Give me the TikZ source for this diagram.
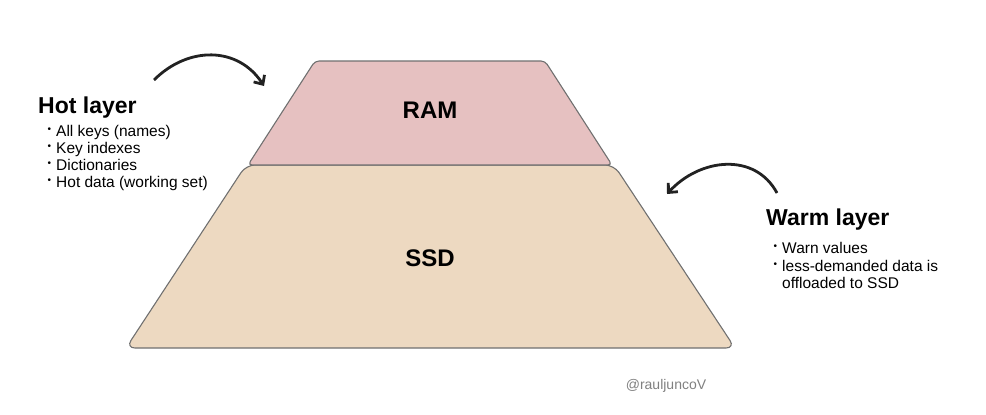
\documentclass[tikz,border=0pt]{standalone}
\usepackage{fontspec}
\setmainfont{Liberation Sans}
\usetikzlibrary{arrows.meta}
\tikzset{>={Straight Barb[length=7pt,width=13pt]}}
\definecolor{ramfill}{HTML}{E6C1C1}
\definecolor{ssdfill}{HTML}{EDD9C1}
\definecolor{edgegray}{HTML}{707070}
\definecolor{inkgray}{HTML}{222222}
\newcommand{\bul}{\llap{\raisebox{4pt}{\fontsize{10}{10}\selectfont\textbullet}\hspace{5pt}}}

\begin{document}
\begin{tikzpicture}[x=1pt,y=-1pt,
    tier/.style={draw=edgegray,line width=1.1pt,rounded corners=9pt},
    tiername/.style={font=\fontsize{24}{28}\selectfont\bfseries,inner sep=0},
    layername/.style={font=\fontsize{23}{26}\selectfont\bfseries,anchor=base west,inner sep=0},
    item/.style={font=\fontsize{15.5}{17}\selectfont,anchor=base west,inner sep=0},
    hint/.style={->,draw=inkgray,line width=2.8pt}]
    \useasboundingbox (0,0) rectangle (986,415);
    % the two tiers
    \filldraw[tier,fill=ssdfill] (246,165) -- (614,165) -- (735,348) -- (126,348) -- cycle;
    \filldraw[tier,fill=ramfill,rounded corners=4pt] (315,61) -- (545,61) -- (612,165) -- (248,165) -- cycle;
    \node[tiername] (ram) at (430,110) {RAM};
    \node[tiername] (ssd) at (430,258) {SSD};
    % hot layer
    \node[layername] (hot) at (38,113) {Hot layer};
    \foreach \t [count=\i] in {All keys (names),Key indexes,Dictionaries,Hot data (working set)}{
        \node[item] (hot\i) at (56,120+16.8*\i) {\bul\t};
    }
    \coordinate (hotfrom) at (154,80);
    \coordinate (hotto) at (264,86);
    \draw[hint] (hotfrom) .. controls (188,46) and (238,46) .. (hotto);
    % warm layer
    \node[layername] (warm) at (766,225) {Warm layer};
    \node[item] (warm1) at (782,253) {\bul Warn values};
    \node[item] (warm2) at (782,271) {\bul less-demanded data is};
    \node[item] (warm3) at (782,288) {offloaded to SSD};
    \coordinate (warmfrom) at (777,193);
    \coordinate (warmto) at (667,194);
    \draw[hint] (warmfrom) .. controls (755,152) and (700,158) .. (warmto);
    % signature
    \node[font=\fontsize{14}{16}\selectfont,text=gray,inner sep=0] (sign) at (666,386) {@rauljuncoV};
\end{tikzpicture}
\end{document}
